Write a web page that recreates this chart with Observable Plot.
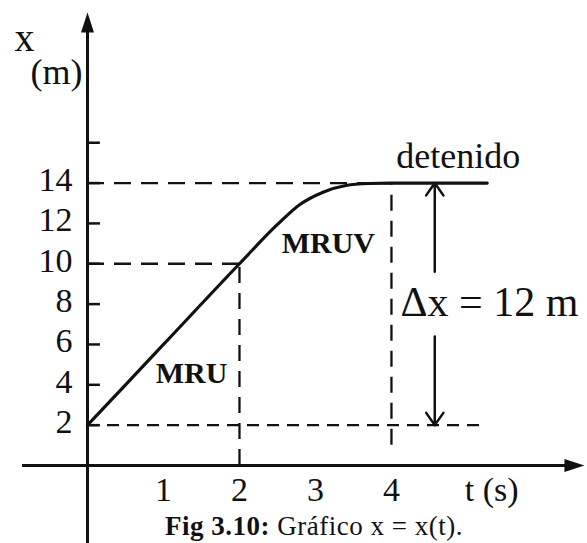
<!DOCTYPE html>
<html>
<head>
<meta charset="utf-8">
<script src="https://cdn.jsdelivr.net/npm/d3@7"></script>
<script src="https://cdn.jsdelivr.net/npm/@observablehq/plot@0.6"></script>
<style>
  html, body { margin: 0; padding: 0; background: #fff; }
  #wrap { position: relative; width: 587px; height: 543px; overflow: hidden; }
  #caption {
    position: absolute; left: 165px; top: 511px;
    font-family: "Liberation Serif", serif; font-size: 27px; color: #111;
    white-space: nowrap; letter-spacing: 0.5px;
  }
</style>
</head>
<body>
<div id="wrap">
  <div id="chart"></div>
  <div id="caption"><b>Fig 3.10:</b> Gráfico x = x(t).</div>
</div>
<script>
// Position x (m) against time t (s): uniform motion, then decelerated, then at rest
const tValues = [0, 1, 2, 2.5, 2.8, 3.1, 3.4, 3.7, 4, 5.26];
const xValues = [2, 6, 10, 11.95, 12.95, 13.55, 13.88, 13.98, 14, 14];

// axis ticks
const yTickLabels = [2, 4, 6, 8, 10, 12, 14];
const yTickMarks = [2, 4, 6, 8, 10, 12, 14, 16];
const tTickLabels = [1, 2, 3, 4];

// reference guides (dashed)
const guideLevels = [14, 10, 2];
const guideLevelEnds = [4, 2, 5.24];
const guideTimes = [2, 4];
const guideTimeBottoms = [0, 1];
const guideTimeTops = [10, 14];

// stage labels
const stageNames = ["MRU", "MRUV"];
const stageT = [1.37, 3.17];
const stageX = [4.59, 10.99];

// displacement annotation
const deltaText = "Δx = 12 m";
const deltaFrom = 2;
const deltaTo = 14;
const deltaT = 4.57;
const deltaGap = [6.4, 9.6];

// axis extents
const yAxisBottom = -3.9, yAxisTip = 22.46;
const tAxisLeft = -0.855, tAxisTip = 6.54;

const path = tValues.map((t, i) => ({t, x: xValues[i]}));
const hGuides = guideLevels.map((v, i) => ({v, t2: guideLevelEnds[i]}));
const vGuides = guideTimes.map((t, i) => ({t, v1: guideTimeBottoms[i], v2: guideTimeTops[i]}));
const stages = stageNames.map((s, i) => ({s, t: stageT[i], x: stageX[i]}));
const deltaArrows = [
  {t: deltaT, from: deltaGap[1], to: deltaTo},
  {t: deltaT, from: deltaGap[0], to: deltaFrom}
];

// narrow filled arrowhead with its tip at the anchor point
const tip = {
  draw(context) {
    context.moveTo(0, 0);
    context.lineTo(-6.5, 20);
    context.lineTo(6.5, 20);
    context.closePath();
  }
};

const serif = "Liberation Serif";
const ink = "#111";

const chart = Plot.plot({
  width: 587,
  height: 543,
  marginLeft: 87,
  marginRight: 0,
  marginTop: 0,
  marginBottom: 78,
  x: {domain: [0, 6.58], axis: null},
  y: {domain: [0, 23.05], axis: null},
  style: {background: "#fff", fontFamily: serif, color: ink},
  marks: [
    // dashed guides
    Plot.ruleY(hGuides.slice(0, 2), {y: "v", x1: 0, x2: "t2", stroke: ink, strokeWidth: 2.3, strokeDasharray: "17,10"}),
    Plot.ruleY(hGuides.slice(2), {y: "v", x1: 0, x2: "t2", stroke: ink, strokeWidth: 2.3, strokeDasharray: "12,8"}),
    Plot.ruleX(vGuides, {x: "t", y1: "v1", y2: "v2", stroke: ink, strokeWidth: 2.3, strokeDasharray: "16,10"}),

    // axes
    Plot.ruleX([0], {x: d => d, y1: yAxisBottom, y2: yAxisTip - 0.8, stroke: ink, strokeWidth: 3}),
    Plot.ruleY([0], {y: d => d, x1: tAxisLeft, x2: tAxisTip - 0.2, stroke: ink, strokeWidth: 3}),
    Plot.dot([{t: 0, v: yAxisTip}], {x: "t", y: "v", symbol: tip, fill: ink, stroke: "none", r: 1}),
    Plot.dot([{t: tAxisTip, v: 0}], {x: "t", y: "v", symbol: tip, fill: ink, stroke: "none", r: 1, rotate: 90}),

    // y ticks and labels
    Plot.ruleY(yTickMarks, {y: d => d, x1: 0, x2: 0.17, stroke: ink, strokeWidth: 2.5}),
    Plot.text(yTickLabels, {x: 0, y: d => d, text: d => String(d), textAnchor: "end", dx: -15, dy: -3, fontSize: 34, fill: ink}),
    Plot.text(tTickLabels, {x: d => d, y: 0, text: d => String(d), dy: 25, fontSize: 34, fill: ink}),

    // axis titles
    Plot.text(["x"], {frameAnchor: "top-left", textAnchor: "middle", lineAnchor: "middle", dx: -63, dy: 38, text: d => d, fontSize: 40, fill: ink}),
    Plot.text(["(m)"], {frameAnchor: "top-left", textAnchor: "middle", lineAnchor: "middle", dx: -31, dy: 72, text: d => d, fontSize: 36, fill: ink}),
    Plot.text(["t (s)"], {x: 5.32, y: 0, text: d => d, dy: 25, fontSize: 34, fill: ink}),

    // position curve
    Plot.line(path, {x: "t", y: "x", curve: "monotone-x", stroke: ink, strokeWidth: 3.2}),

    // stage labels
    Plot.text(stages, {x: "t", y: "x", text: "s", fontSize: 30, fontWeight: "bold", fill: ink}),
    Plot.text(["detenido"], {x: 4.88, y: 15.3, text: d => d, fontSize: 36, fill: ink}),

    // displacement arrow and label
    Plot.arrow(deltaArrows, {x1: "t", y1: "from", x2: "t", y2: "to", stroke: ink, strokeWidth: 2.5, headLength: 9, headAngle: 70}),
    Plot.text([deltaText], {x: 5.29, y: 8.1, text: d => d, fontSize: 42, fill: ink})
  ]
});

document.getElementById("chart").appendChild(chart);
</script>
</body>
</html>
